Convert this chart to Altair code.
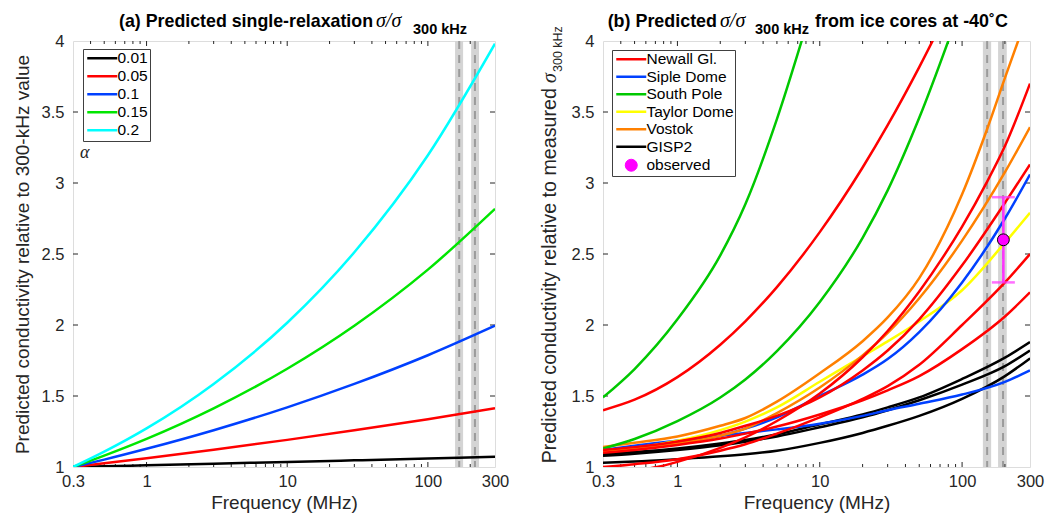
import altair as alt
import pandas as pd

FONT = "Liberation Sans"
SERIF = "Liberation Serif"
INK = "#262626"

# ---------------- shared axis / marker data ----------------
x_label_values = [0.3, 1, 10, 100, 300]
y_label_values = [1, 1.5, 2, 2.5, 3, 3.5, 4]
x_major_ticks = [1, 10, 100]
x_minor_ticks = [0.4, 0.5, 0.6, 0.7, 0.8, 0.9, 2, 3, 4, 5, 6, 7, 8, 9,
                 20, 30, 40, 50, 60, 70, 80, 90, 200]
y_ticks = [1.5, 2, 2.5, 3, 3.5]

# grey frequency bands (MHz) as drawn in each panel
band_a_center = [167, 216]
band_a_lo = [156, 203]
band_a_hi = [178, 231]
band_b_center = [150, 194]
band_b_lo = [140, 179]
band_b_hi = [160, 206]

# ---------------- panel (a): single relaxation ----------------
freq_a = [0.3, 0.5, 1, 3, 10, 30, 100, 300]
alpha_names = ["0.01", "0.05", "0.1", "0.15", "0.2"]
alpha_colors = ["#000000", "#ff0000", "#0040ff", "#00e600", "#00ffff"]
ratio_001 = [1, 1.005, 1.012, 1.023, 1.036, 1.047, 1.060, 1.072]
ratio_005 = [1, 1.026, 1.062, 1.122, 1.191, 1.259, 1.337, 1.413]
ratio_010 = [1, 1.052, 1.128, 1.259, 1.420, 1.585, 1.787, 1.995]
ratio_015 = [1, 1.080, 1.198, 1.413, 1.692, 1.995, 2.390, 2.818]
ratio_020 = [1, 1.108, 1.272, 1.585, 2.016, 2.512, 3.195, 3.981]

# ---------------- panel (b): ice cores ----------------
core_names = ["Newall Gl.", "Siple Dome", "South Pole", "Taylor Dome", "Vostok", "GISP2", "observed"]
core_colors = ["#ff0000", "#0040ff", "#00c800", "#ffff00", "#ff8000", "#000000", "#ff00ff"]

std_f = [0.3, 0.5, 1, 2, 3, 5, 10, 20, 30, 50, 100, 200, 300]

newall_1_f = [0.3, 0.5, 1, 2, 3, 5, 10, 20, 30, 50, 70]
newall_1_v = [1.40, 1.474, 1.633, 1.861, 2.026, 2.267, 2.654, 3.109, 3.407, 3.816, 4.105]
newall_2_f = [0.6, 0.72, 1, 2, 3, 5, 10, 20, 30, 50, 74, 100, 150, 200, 300]
newall_2_v = [0.986, 1.0, 1.036, 1.135, 1.209, 1.324, 1.517, 1.773, 1.958, 2.236, 2.483,
              2.693, 3.01, 3.26, 3.70]
newall_3_v = [1.12, 1.14, 1.18, 1.24, 1.29, 1.36, 1.49, 1.68, 1.82, 2.04, 2.42, 2.86, 3.13]
newall_4_v = [1.0, 1.02, 1.055, 1.115, 1.16, 1.235, 1.35, 1.48, 1.57, 1.72, 2.0, 2.3, 2.5]
newall_5_v = [1.1, 1.12, 1.155, 1.2, 1.235, 1.285, 1.37, 1.47, 1.54, 1.64, 1.83, 2.06, 2.23]
siple_1_v = [1.12, 1.135, 1.17, 1.22, 1.27, 1.35, 1.5, 1.65, 1.76, 1.95, 2.3, 2.75, 3.06]
siple_2_v = [1.12, 1.15, 1.185, 1.22, 1.24, 1.265, 1.305, 1.36, 1.40, 1.445, 1.51, 1.60, 1.68]
south_1_f = [0.3, 0.5, 1, 2, 3, 5, 8]
south_1_v = [1.49, 1.69, 2.04, 2.49, 2.85, 3.45, 4.1]
south_2_f = [0.3, 0.5, 1, 2, 3, 5, 10, 20, 30, 50, 100]
south_2_v = [1.13, 1.197, 1.323, 1.489, 1.616, 1.816, 2.162, 2.614, 2.948, 3.459, 4.27]
taylor_v = [1.11, 1.135, 1.185, 1.26, 1.32, 1.42, 1.6, 1.78, 1.885, 2.025, 2.245, 2.58, 2.79]
vostok_1_f = [0.3, 0.5, 1, 2, 3, 5, 10, 20, 30, 50, 100, 150, 200, 260]
vostok_1_v = [1.14, 1.17, 1.215, 1.29, 1.345, 1.46, 1.66, 1.886, 2.053, 2.33, 2.92, 3.38, 3.74, 4.06]
vostok_2_v = [1.11, 1.13, 1.165, 1.22, 1.27, 1.38, 1.56, 1.786, 1.944, 2.188, 2.594, 3.076, 3.393]
gisp_1_v = [1.09, 1.105, 1.13, 1.165, 1.19, 1.23, 1.30, 1.37, 1.42, 1.49, 1.62, 1.77, 1.88]
gisp_2_v = [1.08, 1.094, 1.12, 1.153, 1.178, 1.215, 1.28, 1.35, 1.40, 1.47, 1.58, 1.71, 1.82]
gisp_3_v = [1.03, 1.038, 1.055, 1.075, 1.09, 1.115, 1.17, 1.24, 1.29, 1.36, 1.48, 1.64, 1.765]

obs_f = [195]
obs_v = [2.6]
obs_lo = [2.3]
obs_hi = [2.9]

# ---------------- tables ----------------
rows_a = []
for name, vals in zip(alpha_names, [ratio_001, ratio_005, ratio_010, ratio_015, ratio_020]):
    for f, v in zip(freq_a, vals):
        rows_a.append({"f": f, "v": v, "alpha": name})
df_a = pd.DataFrame(rows_a)

curves_b = [
    ("GISP2", "g1", std_f, gisp_1_v),
    ("GISP2", "g2", std_f, gisp_2_v),
    ("GISP2", "g3", std_f, gisp_3_v),
    ("Siple Dome", "s2", std_f, siple_2_v),
    ("Taylor Dome", "t1", std_f, taylor_v),
    ("Siple Dome", "s1", std_f, siple_1_v),
    ("Vostok", "v1", vostok_1_f, vostok_1_v),
    ("Vostok", "v2", std_f, vostok_2_v),
    ("South Pole", "p1", south_1_f, south_1_v),
    ("South Pole", "p2", south_2_f, south_2_v),
    ("Newall Gl.", "n1", newall_1_f, newall_1_v),
    ("Newall Gl.", "n2", newall_2_f, newall_2_v),
    ("Newall Gl.", "n3", std_f, newall_3_v),
    ("Newall Gl.", "n4", std_f, newall_4_v),
    ("Newall Gl.", "n5", std_f, newall_5_v),
]
rows_b = []
for k, (grp, cid, fs, vs) in enumerate(curves_b):
    for f, v in zip(fs, vs):
        rows_b.append({"f": f, "v": v, "core": grp, "curve": f"{k:02d}{cid}"})
df_b = pd.DataFrame(rows_b)
df_obs = pd.DataFrame({"f": obs_f, "v": obs_v, "lo": obs_lo, "hi": obs_hi})

# ---------------- geometry ----------------
W_A, W_B, H = 422, 427, 426
XS = alt.Scale(type="log", domain=[0.3, 300], nice=False)
YS = alt.Scale(domain=[1, 4], nice=False, zero=False)
LINE_PATH = "M-2.5,0H2.5"


def x_axis():
    return alt.Axis(values=x_label_values, format="~g", ticks=False, domain=False, grid=False,
                    labelFont=FONT, labelFontSize=16.5, labelColor=INK, labelPadding=6,
                    labelOverlap=False, labelFlush=False,
                    title="Frequency (MHz)", titleFont=FONT, titleFontSize=19,
                    titleFontWeight="normal", titleColor=INK, titlePadding=4)


def y_axis(title):
    kw = dict(values=y_label_values, format="~g", ticks=False, domain=False, grid=False,
              labelFont=FONT, labelFontSize=16.5, labelColor=INK, labelPadding=9,
              labelOverlap=False, labelFlush=False)
    if title:
        kw.update(title=title, titleFont=FONT, titleFontSize=19, titleFontWeight="normal",
                  titleColor=INK, titleX=-51, titleY=H / 2, titleAngle=270,
                  titleAlign="center", titleBaseline="middle")
    else:
        kw.update(title=None)
    return alt.Axis(**kw)


def text(txt, x, y, size, font=FONT, weight="normal", style="normal", align="left",
         baseline="alphabetic", angle=0, color="#000000"):
    return alt.Chart(pd.DataFrame({"t": [txt]})).mark_text(
        font=font, fontSize=size, fontWeight=weight, fontStyle=style, align=align,
        baseline=baseline, angle=angle, color=color
    ).encode(x=alt.value(x), y=alt.value(y), text="t:N")


def frame_layers(W, xa, ya, lo, hi, cen):
    bands = pd.DataFrame({"lo": lo, "hi": hi, "c": cen})
    layers = [
        alt.Chart(bands).mark_rect(color="#d4d4d4").encode(
            x=alt.X("lo:Q", scale=XS, axis=xa), x2="hi:Q",
            y=alt.value(0), y2=alt.value(H)),
        alt.Chart(bands).mark_rule(color="#9b9b9b", strokeWidth=2, strokeDash=[8, 6]).encode(
            x=alt.X("c:Q", scale=XS, axis=xa), y=alt.value(0), y2=alt.value(H)),
    ]
    for vals, L in ((x_major_ticks, 5), (x_minor_ticks, 3)):
        d = pd.DataFrame({"f": vals})
        layers.append(alt.Chart(d).mark_rule(color=INK, strokeWidth=1).encode(
            x=alt.X("f:Q", scale=XS, axis=xa), y=alt.value(H), y2=alt.value(H - L)))
        layers.append(alt.Chart(d).mark_rule(color=INK, strokeWidth=1).encode(
            x=alt.X("f:Q", scale=XS, axis=xa), y=alt.value(0), y2=alt.value(L)))
    d = pd.DataFrame({"v": y_ticks})
    layers.append(alt.Chart(d).mark_rule(color=INK, strokeWidth=1).encode(
        y=alt.Y("v:Q", scale=YS, axis=ya), x=alt.value(0), x2=alt.value(5)))
    layers.append(alt.Chart(d).mark_rule(color=INK, strokeWidth=1).encode(
        y=alt.Y("v:Q", scale=YS, axis=ya), x=alt.value(W), x2=alt.value(W - 5)))
    return layers


# ---------------- panel (a) ----------------
xa_a = x_axis()
ya_a = y_axis("Predicted conductivity relative to 300-kHz value")

legend_a = alt.Legend(orient="none", legendX=10, legendY=8, title=None,
                      symbolType=LINE_PATH, symbolSize=144, symbolStrokeWidth=2.5,
                      symbolOffset=10, labelOffset=7.5, labelFont=FONT, labelFontSize=15.5,
                      labelColor="#000000", fillColor="white", strokeColor="#404040",
                      padding=1.5, rowPadding=1, labelLimit=300)

lines_a = alt.Chart(df_a).mark_line(strokeWidth=2.5, interpolate="monotone", clip=True).encode(
    x=alt.X("f:Q", scale=XS, axis=xa_a),
    y=alt.Y("v:Q", scale=YS, axis=ya_a),
    color=alt.Color("alpha:N", scale=alt.Scale(domain=alpha_names, range=alpha_colors),
                    legend=legend_a),
)

anchor = alt.Chart(pd.DataFrame({"a": [0]})).mark_rule(strokeOpacity=0, strokeWidth=1).encode(
    x=alt.value(-72.5), y=alt.value(-40), y2=alt.value(-30))

panel_a = alt.layer(
    *frame_layers(W_A, xa_a, ya_a, band_a_lo, band_a_hi, band_a_center), lines_a,
    text("(a) Predicted single-relaxation", 300, -14, 17.8, weight="bold", align="right"),
    text("σ/σ", 303, -14, 20, font=SERIF, style="italic"),
    text("300 kHz", 340, -7, 14.5, weight="bold"),
    text("α", 7, 117, 18, font=SERIF, style="italic", color=INK),
    anchor,
).properties(width=W_A, height=H)

# ---------------- panel (b) ----------------
xa_b = x_axis()
ya_b = y_axis(None)

shape_expr = f"datum.label === 'observed' ? 'circle' : '{LINE_PATH}'"
fill_expr = "datum.label === 'observed' ? '#ff00ff' : 'transparent'"
sw_expr = "datum.label === 'observed' ? 1 : 2.5"

legend_b = alt.Legend(orient="none", legendX=9, legendY=9, title=None,
                      symbolType=alt.ExprRef(expr=shape_expr), symbolSize=144,
                      symbolStrokeWidth=alt.ExprRef(expr=sw_expr),
                      symbolFillColor=alt.ExprRef(expr=fill_expr),
                      symbolOffset=10, labelOffset=7.5, labelFont=FONT, labelFontSize=15.5,
                      labelColor="#000000", fillColor="white", strokeColor="#404040",
                      padding=1.5, rowPadding=0.5, labelLimit=300)

lines_b = alt.Chart(df_b).mark_line(strokeWidth=2.5, interpolate="monotone", clip=True).encode(
    x=alt.X("f:Q", scale=XS, axis=xa_b),
    y=alt.Y("v:Q", scale=YS, axis=ya_b),
    color=alt.Color("core:N", scale=alt.Scale(domain=core_names, range=core_colors),
                    legend=legend_b),
    detail="curve:N",
)

err_rule = alt.Chart(df_obs).mark_rule(color="#ff33ff", strokeWidth=2.5).encode(
    x=alt.X("f:Q", scale=XS, axis=xa_b), y=alt.Y("lo:Q", scale=YS, axis=ya_b), y2="hi:Q")
err_cap_lo = alt.Chart(df_obs).mark_tick(color="#ff33ff", thickness=2.5, size=23,
                                         orient="horizontal").encode(
    x=alt.X("f:Q", scale=XS, axis=xa_b), y=alt.Y("lo:Q", scale=YS, axis=ya_b))
err_cap_hi = alt.Chart(df_obs).mark_tick(color="#ff33ff", thickness=2.5, size=23,
                                         orient="horizontal").encode(
    x=alt.X("f:Q", scale=XS, axis=xa_b), y=alt.Y("hi:Q", scale=YS, axis=ya_b))
obs_pt = alt.Chart(df_obs).mark_point(shape="circle", filled=True, size=140, fill="#ff00ff",
                                      stroke="#000000", strokeWidth=1, opacity=1).encode(
    x=alt.X("f:Q", scale=XS, axis=xa_b), y=alt.Y("v:Q", scale=YS, axis=ya_b))

panel_b = alt.layer(
    *frame_layers(W_B, xa_b, ya_b, band_b_lo, band_b_hi, band_b_center),
    lines_b, err_rule, err_cap_lo, err_cap_hi, obs_pt,
    text("(b) Predicted", 114, -14, 17.9, weight="bold", align="right"),
    text("σ/σ", 117, -14, 20, font=SERIF, style="italic"),
    text("300 kHz", 152, -7, 14.5, weight="bold"),
    text("from ice cores at -40˚C", 212, -14, 17.9, weight="bold"),
    text("Predicted conductivity relative to measured", -53, 47, 19.7, align="right",
         baseline="middle", angle=270, color=INK),
    text("σ", -53, 42, 20, font=SERIF, style="italic", align="left", baseline="middle",
         angle=270, color=INK),
    text("300 kHz", -45, 31, 12.5, align="left", baseline="middle", angle=270, color=INK),
).properties(width=W_B, height=H)

chart = alt.hconcat(panel_a, panel_b, spacing=108, bounds="flush").resolve_scale(
    color="independent"
).properties(padding=0, background="white").configure_view(
    stroke="#808080", strokeWidth=1
).configure(font=FONT)

chart.save("out.html", embed_options={"renderer": "svg", "actions": False})
